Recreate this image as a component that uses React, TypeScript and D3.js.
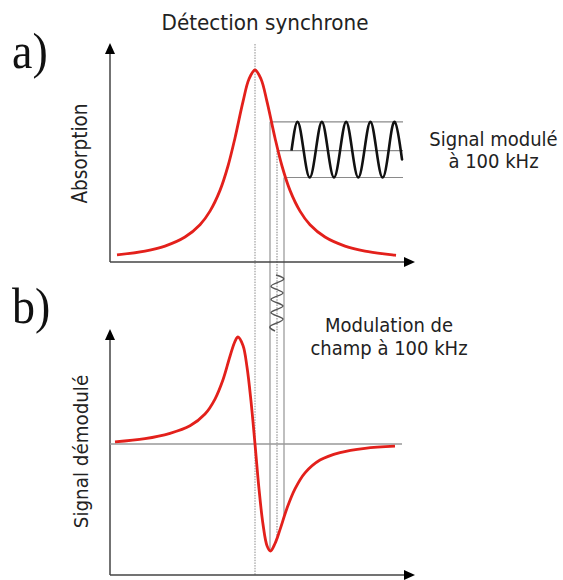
import React from 'react';
import * as d3 from 'd3';

// ---- data (field offset from resonance, arbitrary units) ----
const absField = [-13.8, -11, -9, -7, -5.5, -4.5, -3.5, -2.7, -2, -1.2, -0.6, 0, 0.6, 1.2, 2, 2.7, 3.5, 4.5, 5.5, 7, 9, 11, 14.1];
const absValue = [0.037, 0.057, 0.083, 0.13, 0.194, 0.265, 0.373, 0.5, 0.646, 0.835, 0.953, 1, 0.953, 0.835, 0.646, 0.5, 0.373, 0.265, 0.194, 0.13, 0.083, 0.057, 0.035];

const derivField = [-14, -11, -8.5, -6.5, -5, -4, -3.2, -2.5, -2, -1.7, -1.2, -0.8, -0.4, 0, 0.4, 0.8, 1.2, 1.55, 2, 2.5, 3.2, 4, 5, 6.5, 8.5, 11, 14];
const derivValue = [0.02, 0.05, 0.1, 0.17, 0.28, 0.42, 0.6, 0.82, 0.96, 1.0, 0.92, 0.72, 0.4, 0, -0.42, -0.75, -0.95, -1.0, -0.93, -0.8, -0.6, -0.42, -0.27, -0.15, -0.08, -0.04, -0.02];

// modulation extremes / centre
const modField = [1.5, 2.2, 2.9];
const modAbs = [0.73, 0.58, 0.44];
const modDeriv = [-1.0, -0.87, -0.68];
const modDashed = [false, true, false];

// modulated signal at 100 kHz (time in periods)
const sineTime = [0, 0.25, 0.5, 0.75, 1, 1.25, 1.5, 1.75, 2, 2.25, 2.5, 2.75, 3, 3.25, 3.5, 3.75, 4, 4.25, 4.5, 4.55];
const sineAbs = [0.58, 0.73, 0.58, 0.44, 0.58, 0.73, 0.58, 0.44, 0.58, 0.73, 0.58, 0.44, 0.58, 0.73, 0.58, 0.44, 0.58, 0.73, 0.58, 0.535];

// field modulation (time in periods, vertical)
const zigTime = [0, 0.38, 0.88, 1.38, 1.88, 2.38, 2.88, 3.38, 3.88, 4.3];
const zigField = [2.1, 2.8, 1.6, 2.8, 1.6, 2.8, 1.6, 2.8, 1.6, 2.0];

const RED = '#e3201b';
const AXIS = '#444';
const GUIDE = '#8a8a8a';
const FONT = '"DejaVu Sans", sans-serif';
const STRETCH = 1.1;

function Label({ x, y, rotate = 0, size, children }: { x: number; y: number; rotate?: number; size: number; children: React.ReactNode }) {
  return (
    <text transform={`translate(${x},${y}) rotate(${rotate}) scale(1,${STRETCH})`} textAnchor="middle"
      fontFamily={FONT} fontSize={size} fill="#222">{children}</text>
  );
}

export default function App() {
  const W = 563, H = 580;
  const x = d3.scaleLinear().domain([-14.5, 16]).range([110, 415]);
  const yTop = d3.scaleLinear().domain([0, 1]).range([262, 70]);
  const yBot = d3.scaleLinear().domain([-1, 1]).range([551, 337]);
  const tSine = d3.scaleLinear().domain([0, 4.55]).range([x(3.65), x(14.7)]);
  const tZig = d3.scaleLinear().domain([0, 4.3]).range([275, 331]);

  const absLine = d3.line<number>().x((_, i) => x(absField[i])).y((d) => yTop(d)).curve(d3.curveCatmullRom.alpha(0.5));
  const derivLine = d3.line<number>().x((_, i) => x(derivField[i])).y((d) => yBot(d)).curve(d3.curveCatmullRom.alpha(0.5));
  const sineLine = d3.line<number>().x((_, i) => tSine(sineTime[i])).y((d) => yTop(d)).curve(d3.curveNatural);
  const zigLine = d3.line<number>().x((d) => x(d)).y((_, i) => tZig(zigTime[i])).curve(d3.curveNatural);

  const xTopY = yTop(0);
  const xBotY = 575;
  const x0 = x.range()[0];
  const x1 = x.range()[1];
  const hLineEnd = x(14.8);

  const arrowUp = (cx: number, tip: number) => `M${cx},${tip} L${cx - 5},${tip + 11} L${cx + 5},${tip + 11} Z`;
  const arrowRight = (cy: number, tip: number) => `M${tip},${cy} L${tip - 11},${cy - 5} L${tip - 11},${cy + 5} Z`;

  return (
    <svg width={W} height={H} style={{ position: 'absolute', left: 0, top: 0, display: 'block', background: '#fff' }}>
      {/* title & panel letters */}
      <Label x={265} y={30} size={20}>Détection synchrone</Label>
      <text transform={`translate(12,68) scale(1,1.12)`} fontFamily='"Liberation Serif", serif' fontSize={46} fill="#111">a)</text>
      <text transform={`translate(12,323) scale(1,1.12)`} fontFamily='"Liberation Serif", serif' fontSize={46} fill="#111">b)</text>

      {/* resonance dotted line */}
      <line x1={x(0)} x2={x(0)} y1={44} y2={xBotY} stroke={GUIDE} strokeWidth={1} strokeDasharray="1.5 1.2" />

      {/* modulation guide lines */}
      {modField.map((f, i) => (
        <g key={i}>
          <line x1={x(f)} x2={x(f)} y1={yTop(modAbs[i])} y2={yBot(modDeriv[i])} stroke={GUIDE} strokeWidth={1.1}
            strokeDasharray={modDashed[i] ? '1.5 1.2' : undefined} />
          <line x1={x(f)} x2={hLineEnd} y1={yTop(modAbs[i])} y2={yTop(modAbs[i])} stroke={GUIDE} strokeWidth={1.1} />
        </g>
      ))}

      {/* axes top */}
      <line x1={x0} x2={x0} y1={xTopY} y2={50} stroke={AXIS} strokeWidth={1.5} />
      <path d={arrowUp(x0, 43)} fill="#000" />
      <line x1={x0} x2={x1 - 8} y1={xTopY} y2={xTopY} stroke={AXIS} strokeWidth={1.5} />
      <path d={arrowRight(xTopY, x1)} fill="#000" />

      {/* axes bottom */}
      <line x1={x0} x2={x0} y1={xBotY} y2={336} stroke={AXIS} strokeWidth={1.5} />
      <path d={arrowUp(x0, 329)} fill="#000" />
      <line x1={x0} x2={x1 - 8} y1={xBotY} y2={xBotY} stroke={AXIS} strokeWidth={1.5} />
      <path d={arrowRight(xBotY, x1)} fill="#000" />
      <line x1={x0} x2={x(14.7)} y1={yBot(0)} y2={yBot(0)} stroke="#999" strokeWidth={1.5} />

      {/* curves */}
      <path d={absLine(absValue) || ''} fill="none" stroke={RED} strokeWidth={2.8} strokeLinejoin="round" />
      <path d={derivLine(derivValue) || ''} fill="none" stroke={RED} strokeWidth={2.8} strokeLinejoin="round" />
      <path d={sineLine(sineAbs) || ''} fill="none" stroke="#111" strokeWidth={2.6} />
      <path d={zigLine(zigField) || ''} fill="none" stroke="#555" strokeWidth={1.4} />

      {/* labels */}
      <Label x={87} y={153.5} rotate={-90} size={18.5}>Absorption</Label>
      <Label x={88} y={451.5} rotate={-90} size={18.3}>Signal démodulé</Label>
      <Label x={493.5} y={146} size={18}>Signal modulé</Label>
      <Label x={493.5} y={168} size={18}>à 100 kHz</Label>
      <Label x={389} y={332} size={18}>Modulation de</Label>
      <Label x={389} y={355} size={18}>champ à 100 kHz</Label>
    </svg>
  );
}
